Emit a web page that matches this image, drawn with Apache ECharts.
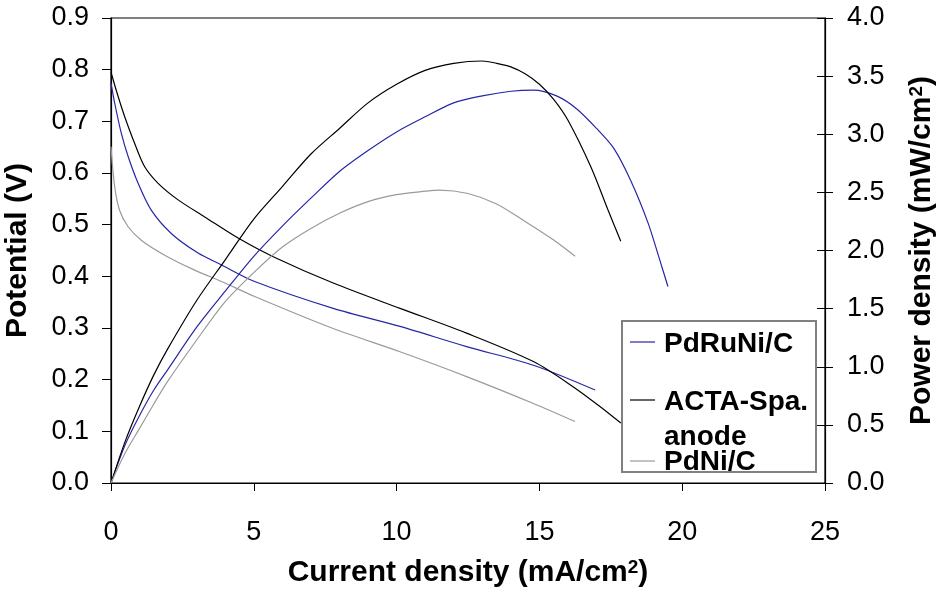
<!DOCTYPE html>
<html>
<head>
<meta charset="utf-8">
<title>Polarization and power density</title>
<script src="https://cdn.jsdelivr.net/npm/echarts@6/dist/echarts.min.js"></script>
<style>
	html, body { margin: 0; padding: 0; background: #fff; }
	#chart { width: 947px; height: 597px; }
</style>
</head>
<body>
<div id="chart"></div>
<script type="text/javascript">
// current density (mA/cm2) / potential (V)
var runiPolI = [0, 0.13, 0.36, 0.6, 0.95, 1.41, 2.11, 3.05, 3.87, 5.03, 7.78, 10.12, 12.45, 14.79, 16.95];
var runiPolV = [0.774, 0.735, 0.677, 0.632, 0.580, 0.528, 0.483, 0.445, 0.422, 0.390, 0.338, 0.303, 0.264, 0.228, 0.180];
var actaPolI = [0, 0.25, 0.48, 0.83, 1.18, 1.65, 2.35, 3.28, 4.45, 5.68, 7.78, 10.12, 12.45, 14.79, 16.19, 17.12, 17.85];
var actaPolV = [0.795, 0.748, 0.709, 0.657, 0.612, 0.580, 0.548, 0.515, 0.474, 0.438, 0.387, 0.338, 0.290, 0.235, 0.186, 0.148, 0.116];
var niPolI = [0, 0.13, 0.3, 0.6, 1.06, 1.88, 2.93, 3.87, 5.03, 7.78, 10.12, 12.45, 14.79, 16.25];
var niPolV = [0.651, 0.573, 0.528, 0.496, 0.470, 0.441, 0.412, 0.390, 0.361, 0.299, 0.254, 0.206, 0.154, 0.119];

// current density (mA/cm2) / power density (mW/cm2)
var runiPowI = [0, 0.5, 1.0, 1.5, 2.0, 3.0, 4.0, 5.0, 6.0, 7.0, 8.0, 9.0, 10.0, 11.0, 12.0, 13.0, 14.0, 14.8, 15.6, 16.3, 17.0, 17.6, 18.2, 18.8, 19.2, 19.5];
var runiPowP = [0, 0.33, 0.58, 0.80, 0.98, 1.34, 1.65, 1.95, 2.21, 2.45, 2.68, 2.86, 3.02, 3.15, 3.27, 3.33, 3.37, 3.38, 3.33, 3.22, 3.05, 2.88, 2.60, 2.24, 1.93, 1.69];
var actaPowI = [0, 0.5, 1.0, 1.5, 2.0, 3.0, 4.0, 5.0, 6.0, 7.0, 8.0, 9.0, 10.0, 11.0, 12.0, 13.0, 13.5, 14.0, 14.5, 15.0, 15.5, 16.0, 16.8, 17.4, 17.85];
var actaPowP = [0, 0.36, 0.66, 0.93, 1.16, 1.57, 1.92, 2.27, 2.55, 2.83, 3.05, 3.27, 3.43, 3.55, 3.61, 3.63, 3.61, 3.58, 3.52, 3.43, 3.30, 3.12, 2.72, 2.35, 2.08];
var niPowI = [0, 0.5, 1.0, 1.5, 2.0, 3.0, 4.0, 5.0, 6.0, 7.0, 8.0, 9.0, 10.0, 11.0, 11.5, 12.5, 13.5, 14.5, 15.5, 16.25];
var niPowP = [0, 0.26, 0.47, 0.68, 0.88, 1.23, 1.56, 1.81, 2.03, 2.19, 2.32, 2.42, 2.48, 2.51, 2.52, 2.49, 2.40, 2.25, 2.09, 1.95];

var xTicks = [0, 25, 5];
var vTicks = [0, 0.9, 0.1];
var pTicks = [0, 4, 0.5];

var names = ['PdRuNi/C', 'ACTA-Spa.\nanode', 'PdNi/C'];
var colors = ['#2626a6', '#000000', '#9a9a9a'];

var font = '"Liberation Sans", Arial, sans-serif';

function zip(xs, ys) {
	return xs.map(function(x, i){ return [x, ys[i]]; });
}

function line(name, color, data, yIdx) {
	return {
		name: name,
		type: 'line',
		yAxisIndex: yIdx,
		data: data,
		showSymbol: false,
		smooth: 0.3,
		lineStyle: { color: color, width: 1.2 },
		itemStyle: { color: color },
		silent: true
	};
}

var tickLabel = { color: '#000', fontSize: 27, fontFamily: font };
var titleStyle = {
	color: '#000', fontSize: 30, fontWeight: 'bold', fontFamily: font,
	rich: { sup: { fontSize: 19, fontWeight: 'bold', fontFamily: font, verticalAlign: 'top', lineHeight: 19 } }
};
var axisLine = { show: true, lineStyle: { color: '#000', width: 1.2 } };

var chart = echarts.init(document.getElementById('chart'), null, { renderer: 'canvas' });

chart.setOption({
	backgroundColor: '#fff',
	animation: false,
	grid: {
		left: 111, right: 122, top: 18, bottom: 114,
		outerBoundsMode: 'none', containLabel: false,
		show: true, borderColor: '#000', borderWidth: 1.2
	},
	xAxis: {
		type: 'value', min: xTicks[0], max: xTicks[1], interval: xTicks[2],
		axisLine: axisLine,
		axisTick: { show: true, inside: false, length: 8, lineStyle: { color: '#000' } },
		axisLabel: Object.assign({ margin: 36 }, tickLabel),
		splitLine: { show: false },
		name: 'Current density (mA/cm{sup|2})',
		nameLocation: 'middle',
		nameGap: 75,
		nameTextStyle: titleStyle
	},
	yAxis: [{
		type: 'value', min: vTicks[0], max: vTicks[1], interval: vTicks[2], position: 'left',
		axisLine: axisLine,
		axisTick: { show: true, inside: false, length: 9, lineStyle: { color: '#000' } },
		axisLabel: Object.assign({ margin: 22, formatter: function(v){ return v.toFixed(1); } }, tickLabel),
		splitLine: { show: false },
		name: 'Potential (V)',
		nameLocation: 'middle',
		nameGap: 78,
		nameTextStyle: titleStyle
	}, {
		type: 'value', min: pTicks[0], max: pTicks[1], interval: pTicks[2], position: 'right',
		axisLine: axisLine,
		axisTick: { show: true, inside: false, length: 8, lineStyle: { color: '#000' } },
		axisLabel: Object.assign({ margin: 22, formatter: function(v){ return v.toFixed(1); } }, tickLabel),
		splitLine: { show: false },
		name: 'Power density (mW/cm{sup|2})',
		nameLocation: 'middle',
		nameGap: 82,
		nameTextStyle: titleStyle
	}, {
		// inner half of the crossing ticks on the right axis
		type: 'value', min: pTicks[0], max: pTicks[1], interval: pTicks[2], position: 'right',
		axisLine: { show: false },
		axisTick: { show: true, inside: true, length: 8, lineStyle: { color: '#000' } },
		axisLabel: { show: false },
		splitLine: { show: false }
	}],
	series: [
		line(names[0], colors[0], zip(runiPolI, runiPolV), 0),
		line(names[1], colors[1], zip(actaPolI, actaPolV), 0),
		line(names[2], colors[2], zip(niPolI, niPolV), 0),
		line(names[0], colors[0], zip(runiPowI, runiPowP), 1),
		line(names[1], colors[1], zip(actaPowI, actaPowP), 1),
		line(names[2], colors[2], zip(niPowI, niPowP), 1)
	],
	graphic: [
		{ type: 'rect', z: 100, shape: { x: 622, y: 321, width: 194, height: 151 },
			style: { fill: '#fff', stroke: '#808080', lineWidth: 2 } },
		{ type: 'line', z: 101, shape: { x1: 630, y1: 342, x2: 655, y2: 342 }, style: { stroke: colors[0], lineWidth: 1.2 } },
		{ type: 'line', z: 101, shape: { x1: 630, y1: 400, x2: 655, y2: 400 }, style: { stroke: colors[1], lineWidth: 1.2 } },
		{ type: 'line', z: 101, shape: { x1: 630, y1: 461, x2: 655, y2: 461 }, style: { stroke: colors[2], lineWidth: 1.2 } },
		{ type: 'text', z: 101, x: 664, y: 344, style: { text: 'PdRuNi/C', fill: '#000', font: 'bold 28px ' + font, verticalAlign: 'middle' } },
		{ type: 'text', z: 101, x: 664, y: 402, style: { text: 'ACTA-Spa.', fill: '#000', font: 'bold 28px ' + font, verticalAlign: 'middle' } },
		{ type: 'text', z: 101, x: 664, y: 437, style: { text: 'anode', fill: '#000', font: 'bold 28px ' + font, verticalAlign: 'middle' } },
		{ type: 'text', z: 101, x: 664, y: 462, style: { text: 'PdNi/C', fill: '#000', font: 'bold 28px ' + font, verticalAlign: 'middle' } }
	]
});
</script>
</body>
</html>
